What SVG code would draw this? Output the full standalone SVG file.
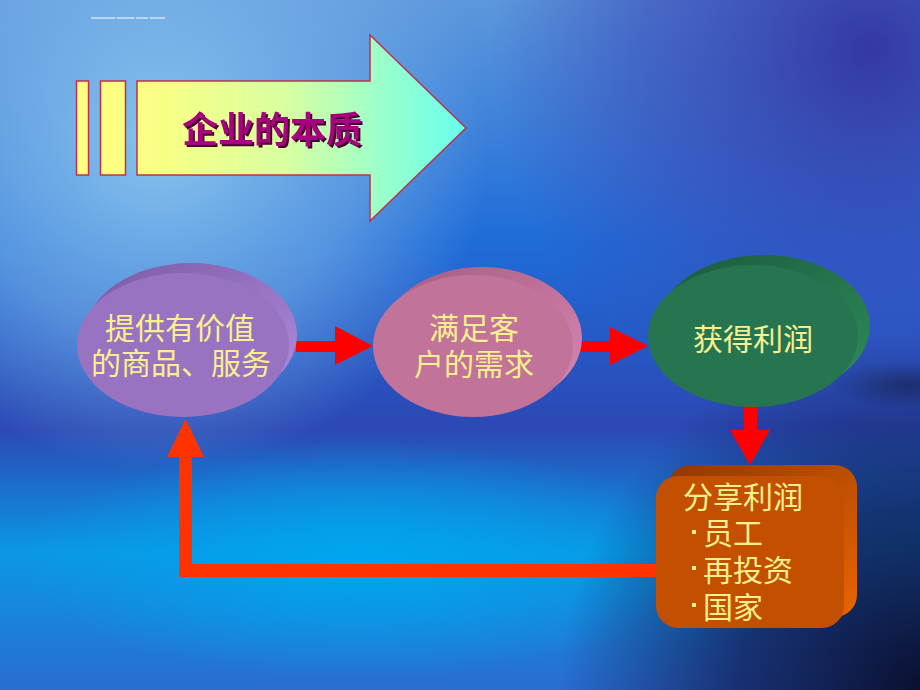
<svg xmlns="http://www.w3.org/2000/svg" width="920" height="690" viewBox="0 0 920 690">
<defs>
<linearGradient id="bgBase" x1="0" y1="0" x2="0" y2="1">
<stop offset="0" stop-color="#5d98dc"/>
<stop offset="0.35" stop-color="#1f6cd8"/>
<stop offset="0.62" stop-color="#2c48b4"/>
<stop offset="0.8" stop-color="#0a98e4"/>
<stop offset="1" stop-color="#2a6cd0"/>
</linearGradient>
<radialGradient id="bgLight" cx="160" cy="140" r="330" gradientUnits="userSpaceOnUse">
<stop offset="0" stop-color="#86c4ee" stop-opacity="1"/>
<stop offset="0.6" stop-color="#78b0e6" stop-opacity="0.6"/>
<stop offset="1" stop-color="#78b0e6" stop-opacity="0"/>
</radialGradient>
<radialGradient id="bgViolet" cx="870" cy="50" r="380" gradientUnits="userSpaceOnUse">
<stop offset="0" stop-color="#3438a4" stop-opacity="1"/>
<stop offset="0.6" stop-color="#3a4cb8" stop-opacity="0.6"/>
<stop offset="1" stop-color="#3a4cb8" stop-opacity="0"/>
</radialGradient>
<radialGradient id="bgCyan" cx="360" cy="560" r="340" gradientTransform="translate(360 560) scale(1 0.35) translate(-360 -560)" gradientUnits="userSpaceOnUse">
<stop offset="0" stop-color="#00a6ee" stop-opacity="1"/>
<stop offset="1" stop-color="#00a6ee" stop-opacity="0"/>
</radialGradient>
<radialGradient id="bgDark" cx="920" cy="690" r="360" gradientUnits="userSpaceOnUse">
<stop offset="0" stop-color="#0a1030" stop-opacity="1"/>
<stop offset="0.5" stop-color="#14205a" stop-opacity="0.8"/>
<stop offset="1" stop-color="#14205a" stop-opacity="0"/>
</radialGradient>
<radialGradient id="bgStreak" cx="910" cy="385" r="80" gradientTransform="translate(910 385) scale(1 0.3) translate(-910 -385)" gradientUnits="userSpaceOnUse">
<stop offset="0" stop-color="#18204a" stop-opacity="0.6"/>
<stop offset="1" stop-color="#18204a" stop-opacity="0"/>
</radialGradient>
<linearGradient id="titleFill" x1="137" y1="0" x2="466" y2="0" gradientUnits="userSpaceOnUse">
<stop offset="0" stop-color="#ffff80"/>
<stop offset="0.45" stop-color="#d8ffa0"/>
<stop offset="1" stop-color="#66fff0"/>
</linearGradient>
<linearGradient id="purpleBack" x1="0" y1="0" x2="1" y2="1">
<stop offset="0" stop-color="#7a5aa2"/>
<stop offset="1" stop-color="#b48ce2"/>
</linearGradient>
<linearGradient id="pinkBack" x1="0" y1="0" x2="1" y2="1">
<stop offset="0" stop-color="#a25c80"/>
<stop offset="1" stop-color="#dc88b6"/>
</linearGradient>
<linearGradient id="greenBack" x1="0" y1="0" x2="1" y2="1">
<stop offset="0" stop-color="#1c5a3c"/>
<stop offset="1" stop-color="#2e8c5c"/>
</linearGradient>
<linearGradient id="orangeBack" x1="0" y1="0" x2="1" y2="1">
<stop offset="0" stop-color="#903800"/>
<stop offset="1" stop-color="#ea6400"/>
</linearGradient>
<filter id="titleShadow" x="-10%" y="-20%" width="120%" height="150%">
<feDropShadow dx="2" dy="2" stdDeviation="0.6" flood-color="#40002c" flood-opacity="1"/>
</filter>
</defs>
<style>
.lbl{font-family:"Noto Sans CJK SC","Noto Sans CJK JP",sans-serif;font-size:30px;fill:#f8f08e;}
.title{font-family:"Noto Sans CJK SC","Noto Sans CJK JP",sans-serif;font-size:36px;font-weight:bold;fill:#a8007e;filter:url(#titleShadow);}
.frame{stroke:#c0304a;stroke-width:1.5;}
.red{fill:#ff0000;}
.loop{fill:#ff3300;}
</style>

<g id="background">
<rect width="920" height="690" fill="url(#bgBase)"/>
<rect width="920" height="690" fill="url(#bgLight)"/>
<rect width="920" height="690" fill="url(#bgViolet)"/>
<rect width="920" height="690" fill="url(#bgCyan)"/>
<rect width="920" height="690" fill="url(#bgDark)"/>
<rect width="920" height="690" fill="url(#bgStreak)"/>
<line x1="91" y1="18" x2="165" y2="18" stroke="#ffffff" stroke-width="1" stroke-dasharray="24 1.5 18 1.5 12 1.5 16"/>
</g>

<g id="title">
<rect class="frame" x="76.5" y="81" width="12" height="94" fill="#ffff80"/>
<rect class="frame" x="100.5" y="81" width="25" height="94" fill="#ffff80"/>
<polygon class="frame" points="137,81 370,81 370,35 466,128 370,221 370,175 137,175" fill="url(#titleFill)"/>
<text class="title" x="272" y="143" text-anchor="middle">企业的本质</text>
</g>

<g id="connectors">
<polygon class="red" points="296,341 335,341 335,326 373,346 335,365 335,352 296,352"/>
<polygon class="red" points="580,341 610,341 610,327 648,346 610,365 610,352 580,352"/>
<polygon class="red" points="744,404 757,404 757,430 770,430 750,465 730,430 744,430"/>
<polygon class="loop" points="656,564 192,564 192,457 204,457 185.5,419 167,457 179,457 179,577 656,577"/>
</g>

<g id="node-provide">
<ellipse cx="191" cy="335" rx="106" ry="72" fill="url(#purpleBack)"/>
<ellipse cx="183" cy="345" rx="106" ry="72" fill="#9a72c2"/>
<text class="lbl" text-anchor="middle"><tspan x="180" y="339">提供有价值</tspan><tspan x="181" y="374">的商品、服务</tspan></text>
</g>

<g id="node-satisfy">
<ellipse cx="482" cy="338" rx="100" ry="71" fill="url(#pinkBack)"/>
<ellipse cx="473" cy="346" rx="100" ry="71" fill="#c27399"/>
<text class="lbl" text-anchor="middle"><tspan x="474" y="339">满足客</tspan><tspan x="474" y="375">户的需求</tspan></text>
</g>

<g id="node-profit">
<ellipse cx="764" cy="326" rx="106" ry="71" fill="url(#greenBack)"/>
<ellipse cx="753" cy="336" rx="105" ry="71" fill="#277550"/>
<text class="lbl" x="753" y="350" text-anchor="middle">获得利润</text>
</g>

<g id="node-share">
<rect x="668" y="465" width="189" height="152" rx="22" fill="url(#orangeBack)"/>
<rect x="656" y="476" width="188" height="152" rx="22" fill="#c25000"/>
<rect x="692" y="530" width="4" height="4" fill="#f8f08e"/>
<rect x="692" y="566" width="4" height="4" fill="#f8f08e"/>
<rect x="692" y="603" width="4" height="4" fill="#f8f08e"/>
<text class="lbl"><tspan x="683" y="508">分享利润</tspan><tspan x="703" y="544">员工</tspan><tspan x="703" y="581">再投资</tspan><tspan x="703" y="618">国家</tspan></text>
</g>
</svg>
